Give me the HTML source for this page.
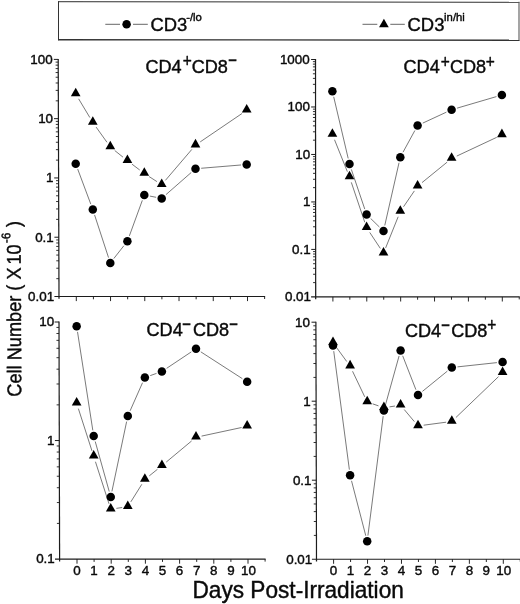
<!DOCTYPE html>
<html><head><meta charset="utf-8"><title>Figure</title>
<style>html,body{margin:0;padding:0;background:#fff}svg{display:block}</style>
</head><body>
<svg width="520" height="604" viewBox="0 0 520 604" font-family='"Liberation Sans", Arial, sans-serif' fill="#0a0a0a">
<style>text{stroke:#0a0a0a;stroke-width:0.4px;stroke-linejoin:round}</style>
<rect x="0" y="0" width="520" height="604" fill="#fff"/>
<line x1="58.5" y1="1.6" x2="519.4" y2="2.3" stroke="#5a5a5a" stroke-width="1.2"/>
<line x1="519" y1="1.8" x2="519" y2="40.6" stroke="#5a5a5a" stroke-width="1.1"/>
<line x1="58.5" y1="1.1" x2="58.5" y2="40.2" stroke="#333" stroke-width="1.0"/>
<line x1="58" y1="39.75" x2="519.5" y2="40.25" stroke="#333" stroke-width="1.3"/>
<line x1="105.3" y1="24.3" x2="120" y2="24.3" stroke="#404040" stroke-width="0.8"/>
<line x1="133" y1="24.3" x2="147.8" y2="24.3" stroke="#404040" stroke-width="0.8"/>
<circle cx="126.6" cy="24.25" r="4.25" fill="#000"/>
<text x="150.4" y="31.2" font-size="18.4" text-anchor="start" >CD3<tspan font-size="11.3" dy="-10.1" dx="-1.0">-/lo</tspan></text>
<line x1="362.5" y1="24.3" x2="377.3" y2="24.3" stroke="#404040" stroke-width="0.8"/>
<line x1="390.3" y1="24.3" x2="404.8" y2="24.3" stroke="#404040" stroke-width="0.8"/>
<polygon points="379.05,27.3 388.75,27.3 383.9,18.7" fill="#000"/>
<text x="407.6" y="31.2" font-size="18.4" text-anchor="start" >CD3<tspan font-size="11.3" dy="-9.8" dx="-0.3">in/hi</tspan></text>
<line x1="58.2" y1="58.9" x2="59.01" y2="298.8" stroke="#1c1c1c" stroke-width="1.2"/>
<line x1="54.4" y1="296.5" x2="265.12" y2="296.5" stroke="#1c1c1c" stroke-width="1.15"/>
<line x1="53.8" y1="59.4" x2="58.2" y2="59.4" stroke="#1c1c1c" stroke-width="1.0"/>
<text x="52.7" y="63.75" font-size="13.4" text-anchor="end" >100</text>
<line x1="55.74" y1="100.83" x2="58.34" y2="100.83" stroke="#1c1c1c" stroke-width="0.9"/>
<line x1="55.7" y1="90.39" x2="58.3" y2="90.39" stroke="#1c1c1c" stroke-width="0.9"/>
<line x1="55.68" y1="82.99" x2="58.28" y2="82.99" stroke="#1c1c1c" stroke-width="0.9"/>
<line x1="55.66" y1="77.24" x2="58.26" y2="77.24" stroke="#1c1c1c" stroke-width="0.9"/>
<line x1="55.64" y1="72.55" x2="58.24" y2="72.55" stroke="#1c1c1c" stroke-width="0.9"/>
<line x1="55.63" y1="68.58" x2="58.23" y2="68.58" stroke="#1c1c1c" stroke-width="0.9"/>
<line x1="55.62" y1="65.14" x2="58.22" y2="65.14" stroke="#1c1c1c" stroke-width="0.9"/>
<line x1="55.61" y1="62.11" x2="58.21" y2="62.11" stroke="#1c1c1c" stroke-width="0.9"/>
<line x1="54" y1="118.67" x2="58.4" y2="118.67" stroke="#1c1c1c" stroke-width="1.0"/>
<text x="53.05" y="123.02" font-size="13.4" text-anchor="end" >10</text>
<line x1="55.94" y1="160.11" x2="58.54" y2="160.11" stroke="#1c1c1c" stroke-width="0.9"/>
<line x1="55.9" y1="149.67" x2="58.5" y2="149.67" stroke="#1c1c1c" stroke-width="0.9"/>
<line x1="55.88" y1="142.26" x2="58.48" y2="142.26" stroke="#1c1c1c" stroke-width="0.9"/>
<line x1="55.86" y1="136.52" x2="58.46" y2="136.52" stroke="#1c1c1c" stroke-width="0.9"/>
<line x1="55.84" y1="131.83" x2="58.44" y2="131.83" stroke="#1c1c1c" stroke-width="0.9"/>
<line x1="55.83" y1="127.86" x2="58.43" y2="127.86" stroke="#1c1c1c" stroke-width="0.9"/>
<line x1="55.82" y1="124.42" x2="58.42" y2="124.42" stroke="#1c1c1c" stroke-width="0.9"/>
<line x1="55.81" y1="121.39" x2="58.41" y2="121.39" stroke="#1c1c1c" stroke-width="0.9"/>
<line x1="54.2" y1="177.95" x2="58.6" y2="177.95" stroke="#1c1c1c" stroke-width="1.0"/>
<text x="53.4" y="182.3" font-size="13.4" text-anchor="end" >1</text>
<line x1="56.14" y1="219.38" x2="58.74" y2="219.38" stroke="#1c1c1c" stroke-width="0.9"/>
<line x1="56.1" y1="208.94" x2="58.7" y2="208.94" stroke="#1c1c1c" stroke-width="0.9"/>
<line x1="56.08" y1="201.54" x2="58.68" y2="201.54" stroke="#1c1c1c" stroke-width="0.9"/>
<line x1="56.06" y1="195.79" x2="58.66" y2="195.79" stroke="#1c1c1c" stroke-width="0.9"/>
<line x1="56.04" y1="191.1" x2="58.64" y2="191.1" stroke="#1c1c1c" stroke-width="0.9"/>
<line x1="56.03" y1="187.13" x2="58.63" y2="187.13" stroke="#1c1c1c" stroke-width="0.9"/>
<line x1="56.02" y1="183.69" x2="58.62" y2="183.69" stroke="#1c1c1c" stroke-width="0.9"/>
<line x1="56.01" y1="180.66" x2="58.61" y2="180.66" stroke="#1c1c1c" stroke-width="0.9"/>
<line x1="54.4" y1="237.22" x2="58.8" y2="237.22" stroke="#1c1c1c" stroke-width="1.0"/>
<text x="53.75" y="241.57" font-size="13.4" text-anchor="end" >0.1</text>
<line x1="56.34" y1="278.66" x2="58.94" y2="278.66" stroke="#1c1c1c" stroke-width="0.9"/>
<line x1="56.3" y1="268.22" x2="58.9" y2="268.22" stroke="#1c1c1c" stroke-width="0.9"/>
<line x1="56.28" y1="260.81" x2="58.88" y2="260.81" stroke="#1c1c1c" stroke-width="0.9"/>
<line x1="56.26" y1="255.07" x2="58.86" y2="255.07" stroke="#1c1c1c" stroke-width="0.9"/>
<line x1="56.24" y1="250.38" x2="58.84" y2="250.38" stroke="#1c1c1c" stroke-width="0.9"/>
<line x1="56.23" y1="246.41" x2="58.83" y2="246.41" stroke="#1c1c1c" stroke-width="0.9"/>
<line x1="56.22" y1="242.97" x2="58.82" y2="242.97" stroke="#1c1c1c" stroke-width="0.9"/>
<line x1="56.21" y1="239.94" x2="58.81" y2="239.94" stroke="#1c1c1c" stroke-width="0.9"/>
<text x="54.1" y="300.85" font-size="13.4" text-anchor="end" >0.01</text>
<line x1="76.3" y1="296.5" x2="76.3" y2="301.1" stroke="#1c1c1c" stroke-width="0.95"/>
<line x1="93.42" y1="296.5" x2="93.42" y2="299.3" stroke="#1c1c1c" stroke-width="0.95"/>
<line x1="110.54" y1="296.5" x2="110.54" y2="301.1" stroke="#1c1c1c" stroke-width="0.95"/>
<line x1="127.66" y1="296.5" x2="127.66" y2="299.3" stroke="#1c1c1c" stroke-width="0.95"/>
<line x1="144.78" y1="296.5" x2="144.78" y2="301.1" stroke="#1c1c1c" stroke-width="0.95"/>
<line x1="161.9" y1="296.5" x2="161.9" y2="299.3" stroke="#1c1c1c" stroke-width="0.95"/>
<line x1="179.02" y1="296.5" x2="179.02" y2="301.1" stroke="#1c1c1c" stroke-width="0.95"/>
<line x1="196.14" y1="296.5" x2="196.14" y2="299.3" stroke="#1c1c1c" stroke-width="0.95"/>
<line x1="213.26" y1="296.5" x2="213.26" y2="301.1" stroke="#1c1c1c" stroke-width="0.95"/>
<line x1="230.38" y1="296.5" x2="230.38" y2="299.3" stroke="#1c1c1c" stroke-width="0.95"/>
<line x1="247.5" y1="296.5" x2="247.5" y2="301.1" stroke="#1c1c1c" stroke-width="0.95"/>
<line x1="264.62" y1="296.5" x2="264.62" y2="299" stroke="#1c1c1c" stroke-width="0.95"/>
<line x1="77.7" y1="169.09" x2="90.8" y2="204.16" stroke="#404040" stroke-width="0.7"/>
<line x1="94.57" y1="214.92" x2="108.53" y2="257.58" stroke="#404040" stroke-width="0.7"/>
<line x1="113.82" y1="258.52" x2="123.88" y2="245.73" stroke="#404040" stroke-width="0.7"/>
<line x1="129.36" y1="235.9" x2="142.34" y2="200.35" stroke="#404040" stroke-width="0.7"/>
<line x1="149.89" y1="196.09" x2="156.11" y2="197.31" stroke="#404040" stroke-width="0.7"/>
<line x1="165.98" y1="194.64" x2="191.22" y2="172.51" stroke="#404040" stroke-width="0.7"/>
<line x1="201.18" y1="168.28" x2="241.02" y2="164.97" stroke="#404040" stroke-width="0.7"/>
<line x1="78.63" y1="98.84" x2="89.87" y2="117.56" stroke="#404040" stroke-width="0.7"/>
<line x1="96.11" y1="127.09" x2="106.99" y2="142.31" stroke="#404040" stroke-width="0.7"/>
<line x1="114.74" y1="150.52" x2="122.96" y2="157.13" stroke="#404040" stroke-width="0.7"/>
<line x1="131.95" y1="164.13" x2="139.75" y2="170.02" stroke="#404040" stroke-width="0.7"/>
<line x1="149.09" y1="176.54" x2="156.91" y2="181.61" stroke="#404040" stroke-width="0.7"/>
<line x1="165.4" y1="180.36" x2="191.8" y2="149.44" stroke="#404040" stroke-width="0.7"/>
<line x1="200.21" y1="141.9" x2="241.99" y2="113.5" stroke="#404040" stroke-width="0.7"/>
<polygon points="70.85,96.25 80.55,96.25 75.7,87.65" fill="#000"/>
<polygon points="87.95,124.75 97.65,124.75 92.8,116.15" fill="#000"/>
<polygon points="105.45,149.25 115.15,149.25 110.3,140.65" fill="#000"/>
<polygon points="122.55,163 132.25,163 127.4,154.4" fill="#000"/>
<polygon points="139.45,175.75 149.15,175.75 144.3,167.15" fill="#000"/>
<polygon points="156.85,187 166.55,187 161.7,178.4" fill="#000"/>
<polygon points="190.65,147.4 200.35,147.4 195.5,138.8" fill="#000"/>
<polygon points="241.85,112.6 251.55,112.6 246.7,104" fill="#000"/>
<circle cx="75.7" cy="163.75" r="4.25" fill="#000"/>
<circle cx="92.8" cy="209.5" r="4.25" fill="#000"/>
<circle cx="110.3" cy="263" r="4.25" fill="#000"/>
<circle cx="127.4" cy="241.25" r="4.25" fill="#000"/>
<circle cx="144.3" cy="195" r="4.25" fill="#000"/>
<circle cx="161.7" cy="198.4" r="4.25" fill="#000"/>
<circle cx="195.5" cy="168.75" r="4.25" fill="#000"/>
<circle cx="246.7" cy="164.5" r="4.25" fill="#000"/>
<text x="145.45" y="73.1" font-size="18.1">CD4</text>
<text transform="translate(182.65,66.9) scale(0.97,1.17)" font-size="16">+</text>
<text x="191.7" y="73.1" font-size="18.1">CD8</text>
<text x="228.2" y="65.4" font-size="14.5" font-weight="bold">−</text>
<line x1="315.5" y1="59" x2="315.7" y2="299.2" stroke="#1c1c1c" stroke-width="1.2"/>
<line x1="311.1" y1="296.9" x2="519.74" y2="296.9" stroke="#1c1c1c" stroke-width="1.15"/>
<line x1="311.1" y1="59.5" x2="315.5" y2="59.5" stroke="#1c1c1c" stroke-width="1.0"/>
<text x="309.7" y="63.85" font-size="13.4" text-anchor="end" >1000</text>
<line x1="312.93" y1="92.69" x2="315.53" y2="92.69" stroke="#1c1c1c" stroke-width="0.9"/>
<line x1="312.92" y1="84.33" x2="315.52" y2="84.33" stroke="#1c1c1c" stroke-width="0.9"/>
<line x1="312.92" y1="78.39" x2="315.52" y2="78.39" stroke="#1c1c1c" stroke-width="0.9"/>
<line x1="312.91" y1="73.79" x2="315.51" y2="73.79" stroke="#1c1c1c" stroke-width="0.9"/>
<line x1="312.91" y1="70.03" x2="315.51" y2="70.03" stroke="#1c1c1c" stroke-width="0.9"/>
<line x1="312.91" y1="66.85" x2="315.51" y2="66.85" stroke="#1c1c1c" stroke-width="0.9"/>
<line x1="312.9" y1="64.1" x2="315.5" y2="64.1" stroke="#1c1c1c" stroke-width="0.9"/>
<line x1="312.9" y1="61.67" x2="315.5" y2="61.67" stroke="#1c1c1c" stroke-width="0.9"/>
<line x1="311.14" y1="106.98" x2="315.54" y2="106.98" stroke="#1c1c1c" stroke-width="1.0"/>
<text x="309.96" y="111.33" font-size="13.4" text-anchor="end" >100</text>
<line x1="312.97" y1="140.17" x2="315.57" y2="140.17" stroke="#1c1c1c" stroke-width="0.9"/>
<line x1="312.96" y1="131.81" x2="315.56" y2="131.81" stroke="#1c1c1c" stroke-width="0.9"/>
<line x1="312.96" y1="125.87" x2="315.56" y2="125.87" stroke="#1c1c1c" stroke-width="0.9"/>
<line x1="312.95" y1="121.27" x2="315.55" y2="121.27" stroke="#1c1c1c" stroke-width="0.9"/>
<line x1="312.95" y1="117.51" x2="315.55" y2="117.51" stroke="#1c1c1c" stroke-width="0.9"/>
<line x1="312.95" y1="114.33" x2="315.55" y2="114.33" stroke="#1c1c1c" stroke-width="0.9"/>
<line x1="312.94" y1="111.58" x2="315.54" y2="111.58" stroke="#1c1c1c" stroke-width="0.9"/>
<line x1="312.94" y1="109.15" x2="315.54" y2="109.15" stroke="#1c1c1c" stroke-width="0.9"/>
<line x1="311.18" y1="154.46" x2="315.58" y2="154.46" stroke="#1c1c1c" stroke-width="1.0"/>
<text x="310.22" y="158.81" font-size="13.4" text-anchor="end" >10</text>
<line x1="313.01" y1="187.65" x2="315.61" y2="187.65" stroke="#1c1c1c" stroke-width="0.9"/>
<line x1="313" y1="179.29" x2="315.6" y2="179.29" stroke="#1c1c1c" stroke-width="0.9"/>
<line x1="313" y1="173.35" x2="315.6" y2="173.35" stroke="#1c1c1c" stroke-width="0.9"/>
<line x1="312.99" y1="168.75" x2="315.59" y2="168.75" stroke="#1c1c1c" stroke-width="0.9"/>
<line x1="312.99" y1="164.99" x2="315.59" y2="164.99" stroke="#1c1c1c" stroke-width="0.9"/>
<line x1="312.99" y1="161.81" x2="315.59" y2="161.81" stroke="#1c1c1c" stroke-width="0.9"/>
<line x1="312.98" y1="159.06" x2="315.58" y2="159.06" stroke="#1c1c1c" stroke-width="0.9"/>
<line x1="312.98" y1="156.63" x2="315.58" y2="156.63" stroke="#1c1c1c" stroke-width="0.9"/>
<line x1="311.22" y1="201.94" x2="315.62" y2="201.94" stroke="#1c1c1c" stroke-width="1.0"/>
<text x="310.48" y="206.29" font-size="13.4" text-anchor="end" >1</text>
<line x1="313.05" y1="235.13" x2="315.65" y2="235.13" stroke="#1c1c1c" stroke-width="0.9"/>
<line x1="313.04" y1="226.77" x2="315.64" y2="226.77" stroke="#1c1c1c" stroke-width="0.9"/>
<line x1="313.04" y1="220.83" x2="315.64" y2="220.83" stroke="#1c1c1c" stroke-width="0.9"/>
<line x1="313.03" y1="216.23" x2="315.63" y2="216.23" stroke="#1c1c1c" stroke-width="0.9"/>
<line x1="313.03" y1="212.47" x2="315.63" y2="212.47" stroke="#1c1c1c" stroke-width="0.9"/>
<line x1="313.03" y1="209.29" x2="315.63" y2="209.29" stroke="#1c1c1c" stroke-width="0.9"/>
<line x1="313.02" y1="206.54" x2="315.62" y2="206.54" stroke="#1c1c1c" stroke-width="0.9"/>
<line x1="313.02" y1="204.11" x2="315.62" y2="204.11" stroke="#1c1c1c" stroke-width="0.9"/>
<line x1="311.26" y1="249.42" x2="315.66" y2="249.42" stroke="#1c1c1c" stroke-width="1.0"/>
<text x="310.74" y="253.77" font-size="13.4" text-anchor="end" >0.1</text>
<line x1="313.09" y1="282.61" x2="315.69" y2="282.61" stroke="#1c1c1c" stroke-width="0.9"/>
<line x1="313.08" y1="274.25" x2="315.68" y2="274.25" stroke="#1c1c1c" stroke-width="0.9"/>
<line x1="313.08" y1="268.31" x2="315.68" y2="268.31" stroke="#1c1c1c" stroke-width="0.9"/>
<line x1="313.07" y1="263.71" x2="315.67" y2="263.71" stroke="#1c1c1c" stroke-width="0.9"/>
<line x1="313.07" y1="259.95" x2="315.67" y2="259.95" stroke="#1c1c1c" stroke-width="0.9"/>
<line x1="313.07" y1="256.77" x2="315.67" y2="256.77" stroke="#1c1c1c" stroke-width="0.9"/>
<line x1="313.06" y1="254.02" x2="315.66" y2="254.02" stroke="#1c1c1c" stroke-width="0.9"/>
<line x1="313.06" y1="251.59" x2="315.66" y2="251.59" stroke="#1c1c1c" stroke-width="0.9"/>
<text x="311" y="301.25" font-size="13.4" text-anchor="end" >0.01</text>
<line x1="332.9" y1="296.9" x2="332.9" y2="301.5" stroke="#1c1c1c" stroke-width="0.95"/>
<line x1="349.84" y1="296.9" x2="349.84" y2="299.7" stroke="#1c1c1c" stroke-width="0.95"/>
<line x1="366.78" y1="296.9" x2="366.78" y2="301.5" stroke="#1c1c1c" stroke-width="0.95"/>
<line x1="383.72" y1="296.9" x2="383.72" y2="299.7" stroke="#1c1c1c" stroke-width="0.95"/>
<line x1="400.66" y1="296.9" x2="400.66" y2="301.5" stroke="#1c1c1c" stroke-width="0.95"/>
<line x1="417.6" y1="296.9" x2="417.6" y2="299.7" stroke="#1c1c1c" stroke-width="0.95"/>
<line x1="434.54" y1="296.9" x2="434.54" y2="301.5" stroke="#1c1c1c" stroke-width="0.95"/>
<line x1="451.48" y1="296.9" x2="451.48" y2="299.7" stroke="#1c1c1c" stroke-width="0.95"/>
<line x1="468.42" y1="296.9" x2="468.42" y2="301.5" stroke="#1c1c1c" stroke-width="0.95"/>
<line x1="485.36" y1="296.9" x2="485.36" y2="299.7" stroke="#1c1c1c" stroke-width="0.95"/>
<line x1="502.3" y1="296.9" x2="502.3" y2="301.5" stroke="#1c1c1c" stroke-width="0.95"/>
<line x1="519.24" y1="296.9" x2="519.24" y2="299.4" stroke="#1c1c1c" stroke-width="0.95"/>
<line x1="333.7" y1="96.8" x2="348.2" y2="158.45" stroke="#404040" stroke-width="0.7"/>
<line x1="351.33" y1="169.4" x2="364.77" y2="209.1" stroke="#404040" stroke-width="0.7"/>
<line x1="370.68" y1="218.48" x2="379.42" y2="227.02" stroke="#404040" stroke-width="0.7"/>
<line x1="384.77" y1="225.44" x2="399.03" y2="162.76" stroke="#404040" stroke-width="0.7"/>
<line x1="403.03" y1="152.2" x2="414.87" y2="130.5" stroke="#404040" stroke-width="0.7"/>
<line x1="422.77" y1="123.1" x2="446.43" y2="112.15" stroke="#404040" stroke-width="0.7"/>
<line x1="457.07" y1="108.15" x2="496.43" y2="96.6" stroke="#404040" stroke-width="0.7"/>
<line x1="334.53" y1="139.74" x2="347.37" y2="171.66" stroke="#404040" stroke-width="0.7"/>
<line x1="351.32" y1="182.35" x2="364.78" y2="222.3" stroke="#404040" stroke-width="0.7"/>
<line x1="369.75" y1="232.45" x2="380.35" y2="248.45" stroke="#404040" stroke-width="0.7"/>
<line x1="385.63" y1="247.91" x2="398.17" y2="216.74" stroke="#404040" stroke-width="0.7"/>
<line x1="403.52" y1="206.75" x2="414.38" y2="190.9" stroke="#404040" stroke-width="0.7"/>
<line x1="422.02" y1="182.6" x2="447.18" y2="162.1" stroke="#404040" stroke-width="0.7"/>
<line x1="456.76" y1="156.08" x2="496.74" y2="137.32" stroke="#404040" stroke-width="0.7"/>
<polygon points="327.55,136.75 337.25,136.75 332.4,128.15" fill="#000"/>
<polygon points="344.65,179.25 354.35,179.25 349.5,170.65" fill="#000"/>
<polygon points="361.75,230 371.45,230 366.6,221.4" fill="#000"/>
<polygon points="378.65,255.5 388.35,255.5 383.5,246.9" fill="#000"/>
<polygon points="395.45,213.75 405.15,213.75 400.3,205.15" fill="#000"/>
<polygon points="412.75,188.5 422.45,188.5 417.6,179.9" fill="#000"/>
<polygon points="446.75,160.8 456.45,160.8 451.6,152.2" fill="#000"/>
<polygon points="497.05,137.2 506.75,137.2 501.9,128.6" fill="#000"/>
<circle cx="332.4" cy="91.25" r="4.25" fill="#000"/>
<circle cx="349.5" cy="164" r="4.25" fill="#000"/>
<circle cx="366.6" cy="214.5" r="4.25" fill="#000"/>
<circle cx="383.5" cy="231" r="4.25" fill="#000"/>
<circle cx="400.3" cy="157.2" r="4.25" fill="#000"/>
<circle cx="417.6" cy="125.5" r="4.25" fill="#000"/>
<circle cx="451.6" cy="109.75" r="4.25" fill="#000"/>
<circle cx="501.9" cy="95" r="4.25" fill="#000"/>
<text x="403.5" y="73.1" font-size="18.1">CD4</text>
<text transform="translate(440.65,67.7) scale(0.97,1.17)" font-size="16">+</text>
<text x="449.95" y="73.1" font-size="18.1">CD8</text>
<text transform="translate(485.65,68.4) scale(0.97,1.17)" font-size="16">+</text>
<line x1="59" y1="321.5" x2="59.61" y2="561.4" stroke="#1c1c1c" stroke-width="1.2"/>
<line x1="55" y1="559.1" x2="265.6" y2="559.1" stroke="#1c1c1c" stroke-width="1.15"/>
<line x1="54.6" y1="322" x2="59" y2="322" stroke="#1c1c1c" stroke-width="1.0"/>
<text x="54.2" y="326.35" font-size="13.4" text-anchor="end" >10</text>
<line x1="56.61" y1="404.86" x2="59.21" y2="404.86" stroke="#1c1c1c" stroke-width="0.9"/>
<line x1="56.56" y1="383.99" x2="59.16" y2="383.99" stroke="#1c1c1c" stroke-width="0.9"/>
<line x1="56.52" y1="369.18" x2="59.12" y2="369.18" stroke="#1c1c1c" stroke-width="0.9"/>
<line x1="56.49" y1="357.69" x2="59.09" y2="357.69" stroke="#1c1c1c" stroke-width="0.9"/>
<line x1="56.47" y1="348.3" x2="59.07" y2="348.3" stroke="#1c1c1c" stroke-width="0.9"/>
<line x1="56.45" y1="340.36" x2="59.05" y2="340.36" stroke="#1c1c1c" stroke-width="0.9"/>
<line x1="56.43" y1="333.49" x2="59.03" y2="333.49" stroke="#1c1c1c" stroke-width="0.9"/>
<line x1="56.41" y1="327.42" x2="59.01" y2="327.42" stroke="#1c1c1c" stroke-width="0.9"/>
<line x1="54.9" y1="440.55" x2="59.3" y2="440.55" stroke="#1c1c1c" stroke-width="1.0"/>
<text x="54.5" y="444.9" font-size="13.4" text-anchor="end" >1</text>
<line x1="56.91" y1="523.41" x2="59.51" y2="523.41" stroke="#1c1c1c" stroke-width="0.9"/>
<line x1="56.86" y1="502.54" x2="59.46" y2="502.54" stroke="#1c1c1c" stroke-width="0.9"/>
<line x1="56.82" y1="487.73" x2="59.42" y2="487.73" stroke="#1c1c1c" stroke-width="0.9"/>
<line x1="56.79" y1="476.24" x2="59.39" y2="476.24" stroke="#1c1c1c" stroke-width="0.9"/>
<line x1="56.77" y1="466.85" x2="59.37" y2="466.85" stroke="#1c1c1c" stroke-width="0.9"/>
<line x1="56.75" y1="458.91" x2="59.35" y2="458.91" stroke="#1c1c1c" stroke-width="0.9"/>
<line x1="56.73" y1="452.04" x2="59.33" y2="452.04" stroke="#1c1c1c" stroke-width="0.9"/>
<line x1="56.71" y1="445.97" x2="59.31" y2="445.97" stroke="#1c1c1c" stroke-width="0.9"/>
<text x="54.8" y="563.45" font-size="13.4" text-anchor="end" >0.1</text>
<line x1="77" y1="559.1" x2="77" y2="563.7" stroke="#1c1c1c" stroke-width="0.95"/>
<text x="77" y="575.1" font-size="13.4" text-anchor="middle" >0</text>
<line x1="94.1" y1="559.1" x2="94.1" y2="561.9" stroke="#1c1c1c" stroke-width="0.95"/>
<text x="94.1" y="575.1" font-size="13.4" text-anchor="middle" >1</text>
<line x1="111.2" y1="559.1" x2="111.2" y2="563.7" stroke="#1c1c1c" stroke-width="0.95"/>
<text x="111.2" y="575.1" font-size="13.4" text-anchor="middle" >2</text>
<line x1="128.3" y1="559.1" x2="128.3" y2="561.9" stroke="#1c1c1c" stroke-width="0.95"/>
<text x="128.3" y="575.1" font-size="13.4" text-anchor="middle" >3</text>
<line x1="145.4" y1="559.1" x2="145.4" y2="563.7" stroke="#1c1c1c" stroke-width="0.95"/>
<text x="145.4" y="575.1" font-size="13.4" text-anchor="middle" >4</text>
<line x1="162.5" y1="559.1" x2="162.5" y2="561.9" stroke="#1c1c1c" stroke-width="0.95"/>
<text x="162.5" y="575.1" font-size="13.4" text-anchor="middle" >5</text>
<line x1="179.6" y1="559.1" x2="179.6" y2="563.7" stroke="#1c1c1c" stroke-width="0.95"/>
<text x="179.6" y="575.1" font-size="13.4" text-anchor="middle" >6</text>
<line x1="196.7" y1="559.1" x2="196.7" y2="561.9" stroke="#1c1c1c" stroke-width="0.95"/>
<text x="196.7" y="575.1" font-size="13.4" text-anchor="middle" >7</text>
<line x1="213.8" y1="559.1" x2="213.8" y2="563.7" stroke="#1c1c1c" stroke-width="0.95"/>
<text x="213.8" y="575.1" font-size="13.4" text-anchor="middle" >8</text>
<line x1="230.9" y1="559.1" x2="230.9" y2="561.9" stroke="#1c1c1c" stroke-width="0.95"/>
<text x="230.9" y="575.1" font-size="13.4" text-anchor="middle" >9</text>
<line x1="248" y1="559.1" x2="248" y2="563.7" stroke="#1c1c1c" stroke-width="0.95"/>
<text x="248.4" y="575.1" font-size="13.4" text-anchor="middle" >10</text>
<line x1="265.1" y1="559.1" x2="265.1" y2="561.6" stroke="#1c1c1c" stroke-width="0.95"/>
<line x1="77.53" y1="331.88" x2="92.82" y2="430.37" stroke="#404040" stroke-width="0.7"/>
<line x1="95.23" y1="441.49" x2="109.22" y2="491.51" stroke="#404040" stroke-width="0.7"/>
<line x1="111.92" y1="491.42" x2="126.63" y2="421.58" stroke="#404040" stroke-width="0.7"/>
<line x1="130.11" y1="410.79" x2="142.54" y2="382.71" stroke="#404040" stroke-width="0.7"/>
<line x1="150.23" y1="375.61" x2="156.52" y2="373.39" stroke="#404040" stroke-width="0.7"/>
<line x1="166.64" y1="368.34" x2="191.26" y2="351.91" stroke="#404040" stroke-width="0.7"/>
<line x1="200.79" y1="351.84" x2="242.36" y2="378.66" stroke="#404040" stroke-width="0.7"/>
<line x1="78.39" y1="408.63" x2="91.96" y2="450.87" stroke="#404040" stroke-width="0.7"/>
<line x1="95.45" y1="461.73" x2="109" y2="503.77" stroke="#404040" stroke-width="0.7"/>
<line x1="116.39" y1="508.37" x2="122.16" y2="507.53" stroke="#404040" stroke-width="0.7"/>
<line x1="130.82" y1="501.87" x2="141.83" y2="484.28" stroke="#404040" stroke-width="0.7"/>
<line x1="149.29" y1="475.87" x2="157.46" y2="469.28" stroke="#404040" stroke-width="0.7"/>
<line x1="166.28" y1="462.05" x2="191.62" y2="440.95" stroke="#404040" stroke-width="0.7"/>
<line x1="201.57" y1="436.1" x2="241.58" y2="427.5" stroke="#404040" stroke-width="0.7"/>
<polygon points="71.8,405.5 81.5,405.5 76.65,396.9" fill="#000"/>
<polygon points="88.85,458.6 98.55,458.6 93.7,450" fill="#000"/>
<polygon points="105.9,511.5 115.6,511.5 110.75,502.9" fill="#000"/>
<polygon points="122.95,509 132.65,509 127.8,500.4" fill="#000"/>
<polygon points="140,481.75 149.7,481.75 144.85,473.15" fill="#000"/>
<polygon points="157.05,468 166.75,468 161.9,459.4" fill="#000"/>
<polygon points="191.15,439.6 200.85,439.6 196,431" fill="#000"/>
<polygon points="242.3,428.6 252,428.6 247.15,420" fill="#000"/>
<circle cx="76.65" cy="326.25" r="4.25" fill="#000"/>
<circle cx="93.7" cy="436" r="4.25" fill="#000"/>
<circle cx="110.75" cy="497" r="4.25" fill="#000"/>
<circle cx="127.8" cy="416" r="4.25" fill="#000"/>
<circle cx="144.85" cy="377.5" r="4.25" fill="#000"/>
<circle cx="161.9" cy="371.5" r="4.25" fill="#000"/>
<circle cx="196" cy="348.75" r="4.25" fill="#000"/>
<circle cx="247.15" cy="381.75" r="4.25" fill="#000"/>
<text x="146.5" y="336.2" font-size="18.1">CD4</text>
<text x="182.3" y="329.3" font-size="14.5" font-weight="bold">−</text>
<text x="192.95" y="336.2" font-size="18.1">CD8</text>
<text x="229.2" y="329.1" font-size="14.5" font-weight="bold">−</text>
<line x1="315.9" y1="321.7" x2="316.51" y2="561.5" stroke="#1c1c1c" stroke-width="1.2"/>
<line x1="311.9" y1="559.2" x2="520.77" y2="559.2" stroke="#1c1c1c" stroke-width="1.15"/>
<line x1="311.5" y1="322.2" x2="315.9" y2="322.2" stroke="#1c1c1c" stroke-width="1.0"/>
<text x="310" y="326.55" font-size="13.4" text-anchor="end" >10</text>
<line x1="313.44" y1="377.42" x2="316.04" y2="377.42" stroke="#1c1c1c" stroke-width="0.9"/>
<line x1="313.4" y1="363.51" x2="316" y2="363.51" stroke="#1c1c1c" stroke-width="0.9"/>
<line x1="313.38" y1="353.64" x2="315.98" y2="353.64" stroke="#1c1c1c" stroke-width="0.9"/>
<line x1="313.36" y1="345.98" x2="315.96" y2="345.98" stroke="#1c1c1c" stroke-width="0.9"/>
<line x1="313.34" y1="339.73" x2="315.94" y2="339.73" stroke="#1c1c1c" stroke-width="0.9"/>
<line x1="313.33" y1="334.44" x2="315.93" y2="334.44" stroke="#1c1c1c" stroke-width="0.9"/>
<line x1="313.32" y1="329.86" x2="315.92" y2="329.86" stroke="#1c1c1c" stroke-width="0.9"/>
<line x1="313.31" y1="325.81" x2="315.91" y2="325.81" stroke="#1c1c1c" stroke-width="0.9"/>
<line x1="311.7" y1="401.2" x2="316.1" y2="401.2" stroke="#1c1c1c" stroke-width="1.0"/>
<text x="310.75" y="405.55" font-size="13.4" text-anchor="end" >1</text>
<line x1="313.64" y1="456.42" x2="316.24" y2="456.42" stroke="#1c1c1c" stroke-width="0.9"/>
<line x1="313.6" y1="442.51" x2="316.2" y2="442.51" stroke="#1c1c1c" stroke-width="0.9"/>
<line x1="313.58" y1="432.64" x2="316.18" y2="432.64" stroke="#1c1c1c" stroke-width="0.9"/>
<line x1="313.56" y1="424.98" x2="316.16" y2="424.98" stroke="#1c1c1c" stroke-width="0.9"/>
<line x1="313.54" y1="418.73" x2="316.14" y2="418.73" stroke="#1c1c1c" stroke-width="0.9"/>
<line x1="313.53" y1="413.44" x2="316.13" y2="413.44" stroke="#1c1c1c" stroke-width="0.9"/>
<line x1="313.52" y1="408.86" x2="316.12" y2="408.86" stroke="#1c1c1c" stroke-width="0.9"/>
<line x1="313.51" y1="404.81" x2="316.11" y2="404.81" stroke="#1c1c1c" stroke-width="0.9"/>
<line x1="311.9" y1="480.2" x2="316.3" y2="480.2" stroke="#1c1c1c" stroke-width="1.0"/>
<text x="311.5" y="484.55" font-size="13.4" text-anchor="end" >0.1</text>
<line x1="313.84" y1="535.42" x2="316.44" y2="535.42" stroke="#1c1c1c" stroke-width="0.9"/>
<line x1="313.8" y1="521.51" x2="316.4" y2="521.51" stroke="#1c1c1c" stroke-width="0.9"/>
<line x1="313.78" y1="511.64" x2="316.38" y2="511.64" stroke="#1c1c1c" stroke-width="0.9"/>
<line x1="313.76" y1="503.98" x2="316.36" y2="503.98" stroke="#1c1c1c" stroke-width="0.9"/>
<line x1="313.74" y1="497.73" x2="316.34" y2="497.73" stroke="#1c1c1c" stroke-width="0.9"/>
<line x1="313.73" y1="492.44" x2="316.33" y2="492.44" stroke="#1c1c1c" stroke-width="0.9"/>
<line x1="313.72" y1="487.86" x2="316.32" y2="487.86" stroke="#1c1c1c" stroke-width="0.9"/>
<line x1="313.71" y1="483.81" x2="316.31" y2="483.81" stroke="#1c1c1c" stroke-width="0.9"/>
<text x="312.25" y="563.55" font-size="13.4" text-anchor="end" >0.01</text>
<line x1="333.6" y1="559.2" x2="333.6" y2="563.8" stroke="#1c1c1c" stroke-width="0.95"/>
<text x="333.6" y="575.2" font-size="13.4" text-anchor="middle" >0</text>
<line x1="350.57" y1="559.2" x2="350.57" y2="562" stroke="#1c1c1c" stroke-width="0.95"/>
<text x="350.57" y="575.2" font-size="13.4" text-anchor="middle" >1</text>
<line x1="367.54" y1="559.2" x2="367.54" y2="563.8" stroke="#1c1c1c" stroke-width="0.95"/>
<text x="367.54" y="575.2" font-size="13.4" text-anchor="middle" >2</text>
<line x1="384.51" y1="559.2" x2="384.51" y2="562" stroke="#1c1c1c" stroke-width="0.95"/>
<text x="384.51" y="575.2" font-size="13.4" text-anchor="middle" >3</text>
<line x1="401.48" y1="559.2" x2="401.48" y2="563.8" stroke="#1c1c1c" stroke-width="0.95"/>
<text x="401.48" y="575.2" font-size="13.4" text-anchor="middle" >4</text>
<line x1="418.45" y1="559.2" x2="418.45" y2="562" stroke="#1c1c1c" stroke-width="0.95"/>
<text x="418.45" y="575.2" font-size="13.4" text-anchor="middle" >5</text>
<line x1="435.42" y1="559.2" x2="435.42" y2="563.8" stroke="#1c1c1c" stroke-width="0.95"/>
<text x="435.42" y="575.2" font-size="13.4" text-anchor="middle" >6</text>
<line x1="452.39" y1="559.2" x2="452.39" y2="562" stroke="#1c1c1c" stroke-width="0.95"/>
<text x="452.39" y="575.2" font-size="13.4" text-anchor="middle" >7</text>
<line x1="469.36" y1="559.2" x2="469.36" y2="563.8" stroke="#1c1c1c" stroke-width="0.95"/>
<text x="469.36" y="575.2" font-size="13.4" text-anchor="middle" >8</text>
<line x1="486.33" y1="559.2" x2="486.33" y2="562" stroke="#1c1c1c" stroke-width="0.95"/>
<text x="486.33" y="575.2" font-size="13.4" text-anchor="middle" >9</text>
<line x1="503.3" y1="559.2" x2="503.3" y2="563.8" stroke="#1c1c1c" stroke-width="0.95"/>
<text x="503.7" y="575.2" font-size="13.4" text-anchor="middle" >10</text>
<line x1="520.27" y1="559.2" x2="520.27" y2="561.7" stroke="#1c1c1c" stroke-width="0.95"/>
<line x1="333.74" y1="351.15" x2="349.36" y2="469.65" stroke="#404040" stroke-width="0.7"/>
<line x1="351.53" y1="480.82" x2="365.77" y2="535.73" stroke="#404040" stroke-width="0.7"/>
<line x1="367.92" y1="535.6" x2="383.18" y2="416.15" stroke="#404040" stroke-width="0.7"/>
<line x1="385.43" y1="405.01" x2="399.07" y2="355.99" stroke="#404040" stroke-width="0.7"/>
<line x1="402.68" y1="355.81" x2="415.92" y2="389.69" stroke="#404040" stroke-width="0.7"/>
<line x1="422.42" y1="391.4" x2="447.38" y2="371.1" stroke="#404040" stroke-width="0.7"/>
<line x1="457.47" y1="366.89" x2="496.93" y2="362.61" stroke="#404040" stroke-width="0.7"/>
<line x1="336.36" y1="347.3" x2="346.74" y2="361.5" stroke="#404040" stroke-width="0.7"/>
<line x1="352.55" y1="371.25" x2="364.75" y2="396.85" stroke="#404040" stroke-width="0.7"/>
<line x1="372.59" y1="403.84" x2="378.51" y2="405.86" stroke="#404040" stroke-width="0.7"/>
<line x1="389.54" y1="406.86" x2="394.96" y2="406.04" stroke="#404040" stroke-width="0.7"/>
<line x1="404.26" y1="409.57" x2="414.34" y2="421.58" stroke="#404040" stroke-width="0.7"/>
<line x1="423.65" y1="425.2" x2="446.15" y2="422.2" stroke="#404040" stroke-width="0.7"/>
<line x1="455.91" y1="417.5" x2="498.49" y2="376.65" stroke="#404040" stroke-width="0.7"/>
<polygon points="328.15,345 337.85,345 333,336.4" fill="#000"/>
<polygon points="345.25,368.4 354.95,368.4 350.1,359.8" fill="#000"/>
<polygon points="362.35,404.3 372.05,404.3 367.2,395.7" fill="#000"/>
<polygon points="379.05,410 388.75,410 383.9,401.4" fill="#000"/>
<polygon points="395.75,407.5 405.45,407.5 400.6,398.9" fill="#000"/>
<polygon points="413.15,428.25 422.85,428.25 418,419.65" fill="#000"/>
<polygon points="446.95,423.75 456.65,423.75 451.8,415.15" fill="#000"/>
<polygon points="497.75,375 507.45,375 502.6,366.4" fill="#000"/>
<circle cx="333" cy="345.5" r="4.25" fill="#000"/>
<circle cx="350.1" cy="475.3" r="4.25" fill="#000"/>
<circle cx="367.2" cy="541.25" r="4.25" fill="#000"/>
<circle cx="383.9" cy="410.5" r="4.25" fill="#000"/>
<circle cx="400.6" cy="350.5" r="4.25" fill="#000"/>
<circle cx="418" cy="395" r="4.25" fill="#000"/>
<circle cx="451.8" cy="367.5" r="4.25" fill="#000"/>
<circle cx="502.6" cy="362" r="4.25" fill="#000"/>
<text x="404.9" y="336.75" font-size="18.1">CD4</text>
<text x="441.2" y="330.3" font-size="14.5" font-weight="bold">−</text>
<text x="451.2" y="336.75" font-size="18.1">CD8</text>
<text transform="translate(487.15,331.1) scale(0.97,1.17)" font-size="16">+</text>
<text transform="translate(192.5,597.7) scale(1,1.035)" font-size="22.65">Days Post-Irradiation</text>
<text transform="translate(21.3,396.7) rotate(-90.25) scale(0.978,1.07)" font-size="18.6">Cell Number ( X<tspan dx="-2.2"> 10</tspan><tspan font-size="11.6" dy="-9.7" dx="1.5">-6</tspan><tspan dy="9.7" dx="0.7"> )</tspan></text>
</svg>
</body></html>
